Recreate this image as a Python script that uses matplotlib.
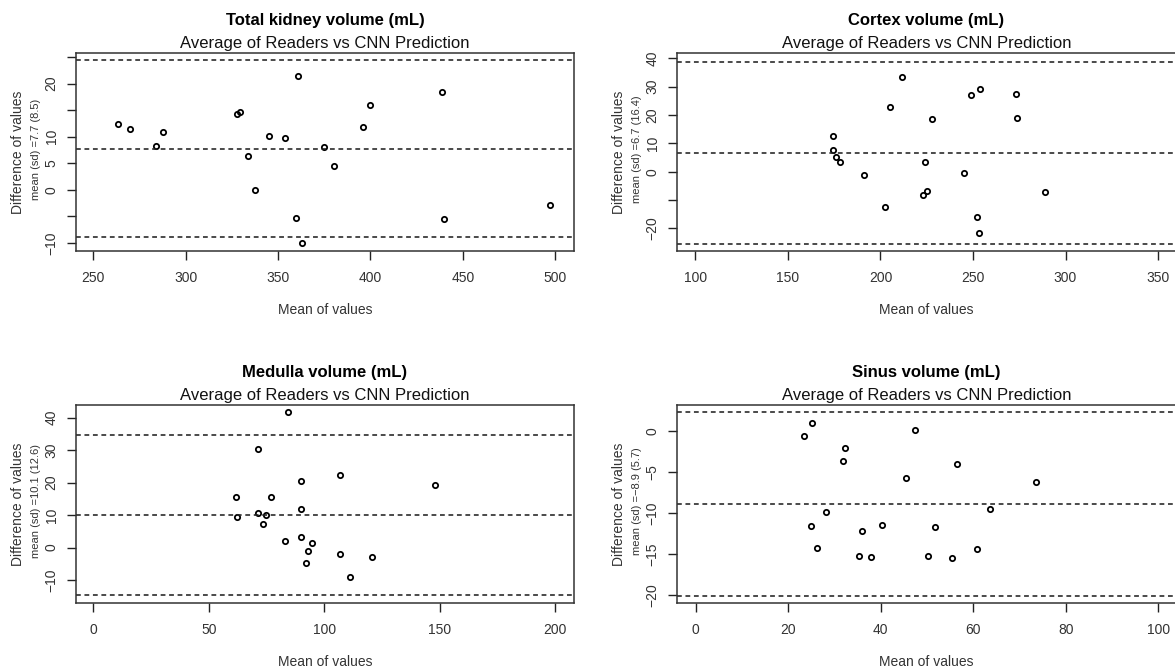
import numpy as np
import matplotlib
matplotlib.use("Agg")
import matplotlib.pyplot as plt

plt.rcParams['font.family'] = ['Liberation Sans', 'DejaVu Sans']

W, H = 1175, 671

titles = ["Total kidney volume (mL)", "Cortex volume (mL)",
          "Medulla volume (mL)", "Sinus volume (mL)"]
subtitle = "Average of Readers vs CNN Prediction"

# Bland-Altman points: mean of values (x) and difference (y)
tkv_x = [263.6, 270.0, 287.6, 283.7, 327.8, 329.3, 333.7, 337.6, 345.1, 353.7,
         360.8, 359.6, 362.8, 374.8, 380.1, 395.9, 399.6, 438.8, 440.0, 497.0]
tkv_y = [12.4, 11.5, 10.9, 8.2, 14.3, 14.6, 6.4, -0.1, 10.1, 9.7,
         21.5, -5.4, -10.1, 8.1, 4.4, 11.9, 15.9, 18.5, -5.6, -2.8]

cortex_x = [174.2, 174.6, 176.0, 178.2, 190.9, 202.7, 204.9, 211.5, 227.8, 224.1,
            223.1, 224.9, 245.1, 248.9, 254.0, 252.2, 253.2, 273.2, 274.0, 288.9]
cortex_y = [12.6, 7.8, 5.2, 3.6, -1.0, -12.5, 22.9, 33.4, 18.6, 3.6,
            -8.3, -6.9, -0.6, 27.1, 29.3, -16.1, -21.6, 27.5, 18.9, -7.3]

medulla_x = [84.2, 71.1, 61.8, 62.1, 71.2, 74.6, 73.3, 77.1, 82.8, 90.1,
             90.1, 90.1, 94.8, 93.0, 91.9, 106.8, 107.0, 120.7, 111.2, 148.0]
medulla_y = [41.7, 30.2, 15.5, 9.4, 10.5, 9.9, 7.1, 15.6, 2.0, 20.4,
             11.8, 3.3, 1.3, -1.2, -4.8, 22.4, -2.1, -2.8, -9.0, 19.3]

sinus_x = [23.5, 25.1, 32.2, 31.9, 47.4, 45.4, 56.5, 73.5, 63.5, 28.2,
           24.9, 26.2, 35.9, 40.3, 35.3, 37.8, 50.1, 51.8, 55.5, 60.9]
sinus_y = [-0.7, 0.9, -2.15, -3.65, 0.1, -5.8, -4.0, -6.25, -9.5, -9.9,
           -11.6, -14.3, -12.2, -11.5, -15.2, -15.4, -15.2, -11.7, -15.5, -14.4]

# mean difference and sd as printed in the y labels
diff_mean = [7.7, 6.7, 10.1, -8.9]
diff_sd = [8.5, 16.4, 12.6, 5.7]

xs = [tkv_x, cortex_x, medulla_x, sinus_x]
ys = [tkv_y, cortex_y, medulla_y, sinus_y]

xlims = [(240.5, 510.3), (89.9, 359.7), (-7.6, 208.2), (-4.1, 103.8)]
ylims = [(-11.6, 25.7), (-28.05, 41.75), (-17.0, 43.9), (-20.94, 3.13)]
xticks = [np.arange(250, 501, 50), np.arange(100, 351, 50),
          np.arange(0, 201, 50), np.arange(0, 101, 20)]
yticks = [np.arange(-10, 26, 5), np.arange(-20, 41, 10),
          np.arange(-10, 41, 10), np.arange(-20, 1, 5)]
ytick_labels = [["-10", "", "0", "5", "10", "", "20", ""],
                ["-20", "", "0", "10", "20", "30", "40"],
                ["-10", "0", "10", "20", "30", "40"],
                ["-20", "-15", "-10", "-5", "0"]]

# axes boxes in pixels: left, right, top, bottom
boxes = [(75.7, 574.3, 53.3, 251.3), (676.7, 1176.0, 53.3, 251.3),
         (75.7, 574.3, 405.0, 602.7), (676.7, 1176.0, 405.0, 602.7)]

fig = plt.figure(figsize=(W / 100, H / 100), dpi=100)
ink = '#222222'

for i in range(4):
    l, r, t, b = boxes[i]
    ax = fig.add_axes([l / W, 1 - b / H, (r - l) / W, (b - t) / H])
    ax.plot(xs[i], ys[i], 'o', ms=3.8, mfc='none', mec='black', mew=1.3)

    m, sd = diff_mean[i], diff_sd[i]
    for v in (m + 1.96 * sd, m, m - 1.96 * sd):
        ax.axhline(v, color=ink, lw=1.15, dashes=(3.0, 2.3))

    ax.set_xlim(*xlims[i])
    ax.set_ylim(*ylims[i])
    ax.set_xticks(xticks[i])
    ax.set_yticks(yticks[i])
    ax.set_yticklabels([s.replace('-', '\u2212') for s in ytick_labels[i]],
                       rotation=90, va='center')
    ax.tick_params(length=6.3, width=1.0, color=ink, labelsize=10,
                   labelcolor='#333333')
    ax.tick_params(axis='x', pad=8)
    ax.tick_params(axis='y', pad=6)
    for s in ax.spines.values():
        s.set_linewidth(1.1)
        s.set_color('#333333')

    cx = (l + r) / 2
    fig.text(cx / W, 1 - (t - 33) / H, titles[i], ha='center', va='center',
             fontsize=12, fontweight='bold')
    fig.text(cx / W, 1 - (t - 9.5) / H, subtitle, ha='center', va='center',
             fontsize=12, color='#111111')
    fig.text(cx / W, 1 - (b + 59) / H, "Mean of values", ha='center',
             va='center', fontsize=10, color='#333333')
    cy = (t + b) / 2
    fig.text((l - 57.7) / W, 1 - cy / H, "Difference of values", rotation=90,
             ha='center', va='center', fontsize=10, color='#333333')
    sd_txt = "mean (sd) =%.1f (%.1f)" % (m, sd)
    fig.text((l - 40) / W, 1 - (cy - 3) / H, sd_txt.replace('-', '\u2212'),
             rotation=90, ha='center', va='center', fontsize=8,
             color='#333333')

fig.savefig("out.png", dpi=100)
